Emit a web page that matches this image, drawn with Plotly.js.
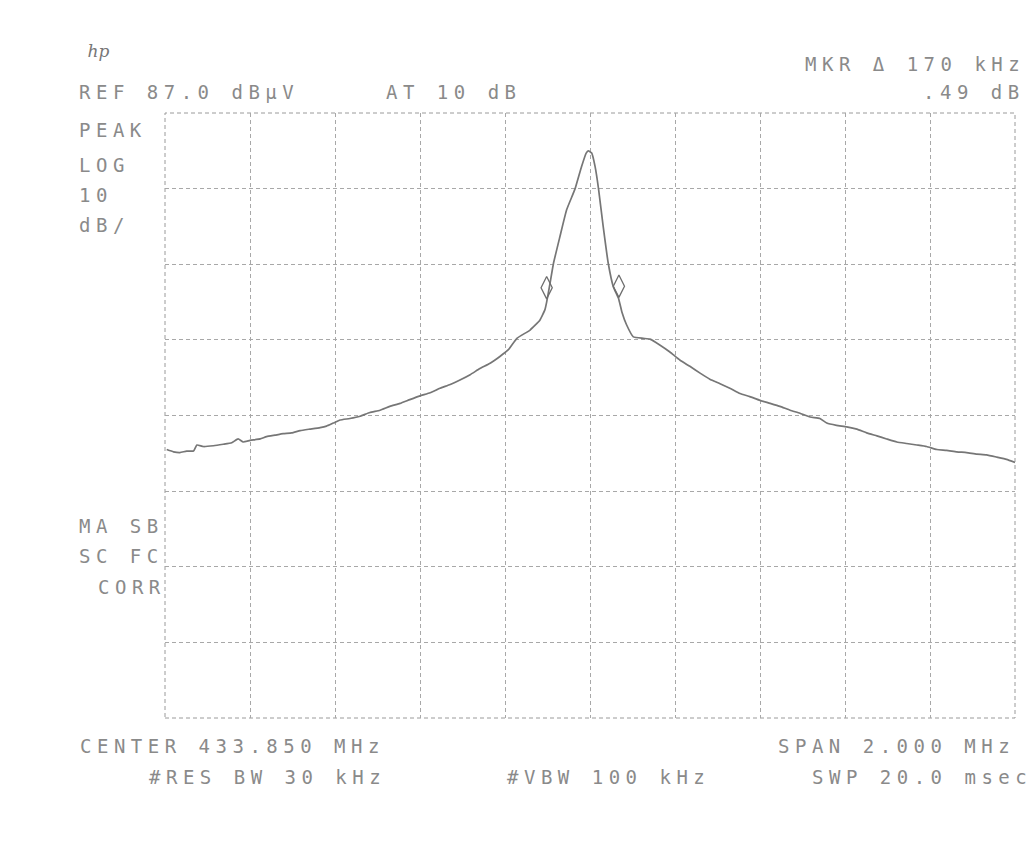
<!DOCTYPE html>
<html>
<head>
<meta charset="utf-8">
<script src="https://cdn.plot.ly/plotly-3.0.1.min.js"></script>
<style>
  html, body { margin: 0; padding: 0; background: #ffffff; }
  #chart { width: 1035px; height: 845px; }
  .annotation-text { letter-spacing: 5.5px; }
  g.annotation[data-index="0"] .annotation-text { letter-spacing: 0px; }
</style>
</head>
<body>
<div id="chart"></div>
<script>
// Frequency offset from the 433.850 MHz centre (kHz) and level (dBµV)
const freqOffsetKHz = [-996,-980,-965,-949,-933,-925,-910,-886,-863,-843,
  -828,-816,-800,-776,-761,-741,-722,-702,-682,-659,
  -635,-620,-604,-588,-565,-541,-518,-494,-471,-447,
  -424,-400,-376,-353,-329,-306,-282,-259,-235,-212,
  -192,-172,-141,-118,-106,-102,-94,-86,-71,-55,
  -35,-20,-9,-4,
  4,12,20,31,43,55,
  67,75,86,102,125,141,165,188,212,235,
  259,282,306,329,353,376,400,424,447,471,
  494,518,541,557,580,604,628,651,675,698,
  722,745,769,792,816,839,863,886,910,933,
  957,980,1000];
const levelDbuV = [42.5,42.2,42.1,42.3,42.3,43.1,42.9,43.0,43.2,43.4,
  43.9,43.5,43.7,43.9,44.2,44.4,44.6,44.7,45.0,45.2,
  45.4,45.6,46.0,46.4,46.6,46.9,47.4,47.7,48.2,48.6,
  49.1,49.6,50.0,50.6,51.1,51.7,52.4,53.2,53.9,54.8,
  55.7,57.2,58.3,59.6,61.0,62.0,64.5,67.1,70.6,74.2,
  77.0,79.9,81.7,82.0,
  81.7,79.9,77.0,72.0,67.1,64.0,
  62.5,60.7,59.0,57.4,57.2,57.1,56.3,55.4,54.3,53.5,
  52.6,51.8,51.2,50.6,49.9,49.5,49.0,48.6,48.2,47.7,
  47.3,46.8,46.6,46.0,45.7,45.5,45.2,44.7,44.3,43.9,
  43.5,43.3,43.1,42.9,42.5,42.4,42.2,42.1,41.9,41.8,
  41.5,41.2,40.8];

// Delta-marker pair (170 kHz apart)
const markerOffsetsKHz = [-102, 68];
const markerLevels = [63.9, 64.1];

// Screen settings
const refLevel = 87.0;      // dBµV, top graticule line
const dbPerDiv = 10;
const vDivs = 8;
const spanKHz = 2000;
const hDivs = 10;

// Screen annotation texts
const headerLeft = ["REF 87.0 dBμV", "AT 10 dB"];
const headerRight = ["MKR Δ 170 kHz", ".49 dB"];
const sideTop = ["PEAK", "LOG", "10", "dB/"];
const sideBottom = ["MA SB", "SC FC", "CORR"];
const footer1 = ["CENTER 433.850 MHz", "SPAN 2.000 MHz"];
const footer2 = ["#RES BW 30 kHz", "#VBW 100 kHz", "SWP 20.0 msec"];

// plot area in pixels
const L = 165, R = 1015, T = 113, B = 718;
const W = 1035, H = 845;
const px = x => (x - L) / (R - L);
const py = y => (B - y) / (B - T);

const ink = '#8a8a8a';
const font = {family: 'DejaVu Sans Mono', size: 19, color: ink};

function ann(text, x, y, xanchor) {
  return {text: text, xref: 'paper', yref: 'paper', x: px(x), y: py(y),
    xanchor: xanchor || 'left', yanchor: 'middle', showarrow: false, font: font, borderpad: 0};
}

const annotations = [
  {text: '<i>hp</i>', xref: 'paper', yref: 'paper', x: px(80), y: py(51), xanchor: 'left', yanchor: 'middle',
   showarrow: false, font: {family: 'DejaVu Serif', size: 17, color: '#777'}},
  ann(headerLeft[0], 78, 92),
  ann(headerLeft[1], 385, 92),
  ann(headerRight[0], 1026, 64, 'right'),
  ann(headerRight[1], 1026, 92, 'right'),
  ann(sideTop[0], 78, 130),
  ann(sideTop[1], 78, 165),
  ann(sideTop[2], 78, 195),
  ann(sideTop[3], 78, 225),
  ann(sideBottom[0], 78, 526),
  ann(sideBottom[1], 78, 556),
  ann(sideBottom[2], 97, 587),
  ann(footer1[0], 79, 746),
  ann(footer1[1], 777, 746),
  ann(footer2[0], 148, 777),
  ann(footer2[1], 506, 777),
  ann(footer2[2], 811, 777)
];

const traces = [
  {x: freqOffsetKHz, y: levelDbuV, type: 'scatter', mode: 'lines',
   line: {color: '#767676', width: 1.7, shape: 'spline', smoothing: 0.4}, hoverinfo: 'skip'},
  {x: markerOffsetsKHz, y: markerLevels, type: 'scatter', mode: 'markers',
   marker: {symbol: 'diamond-tall-open', size: 16, color: '#6e6e6e', line: {width: 1.3, color: '#6e6e6e'}},
   hoverinfo: 'skip'}
];

const gridStyle = {gridcolor: '#a8a8a8', griddash: '4px,3px', gridwidth: 1,
  showticklabels: false, ticks: '', zeroline: false, showline: false, fixedrange: true};

const layout = {
  width: W, height: H,
  margin: {l: L, r: W - R, t: T, b: H - B, pad: 0},
  paper_bgcolor: '#ffffff', plot_bgcolor: '#ffffff',
  showlegend: false,
  xaxis: Object.assign({range: [-spanKHz / 2, spanKHz / 2], dtick: spanKHz / hDivs, tick0: 0}, gridStyle),
  yaxis: Object.assign({range: [refLevel - vDivs * dbPerDiv, refLevel], dtick: dbPerDiv, tick0: refLevel}, gridStyle),
  shapes: [
    {type: 'rect', xref: 'paper', yref: 'paper', x0: 0, x1: 1, y0: 0, y1: 1,
     line: {color: '#9a9a9a', width: 1, dash: '4px,3px'}, layer: 'below'}
  ],
  annotations: annotations
};

Plotly.newPlot('chart', traces, layout, {displayModeBar: false, staticPlot: true});
</script>
</body>
</html>
